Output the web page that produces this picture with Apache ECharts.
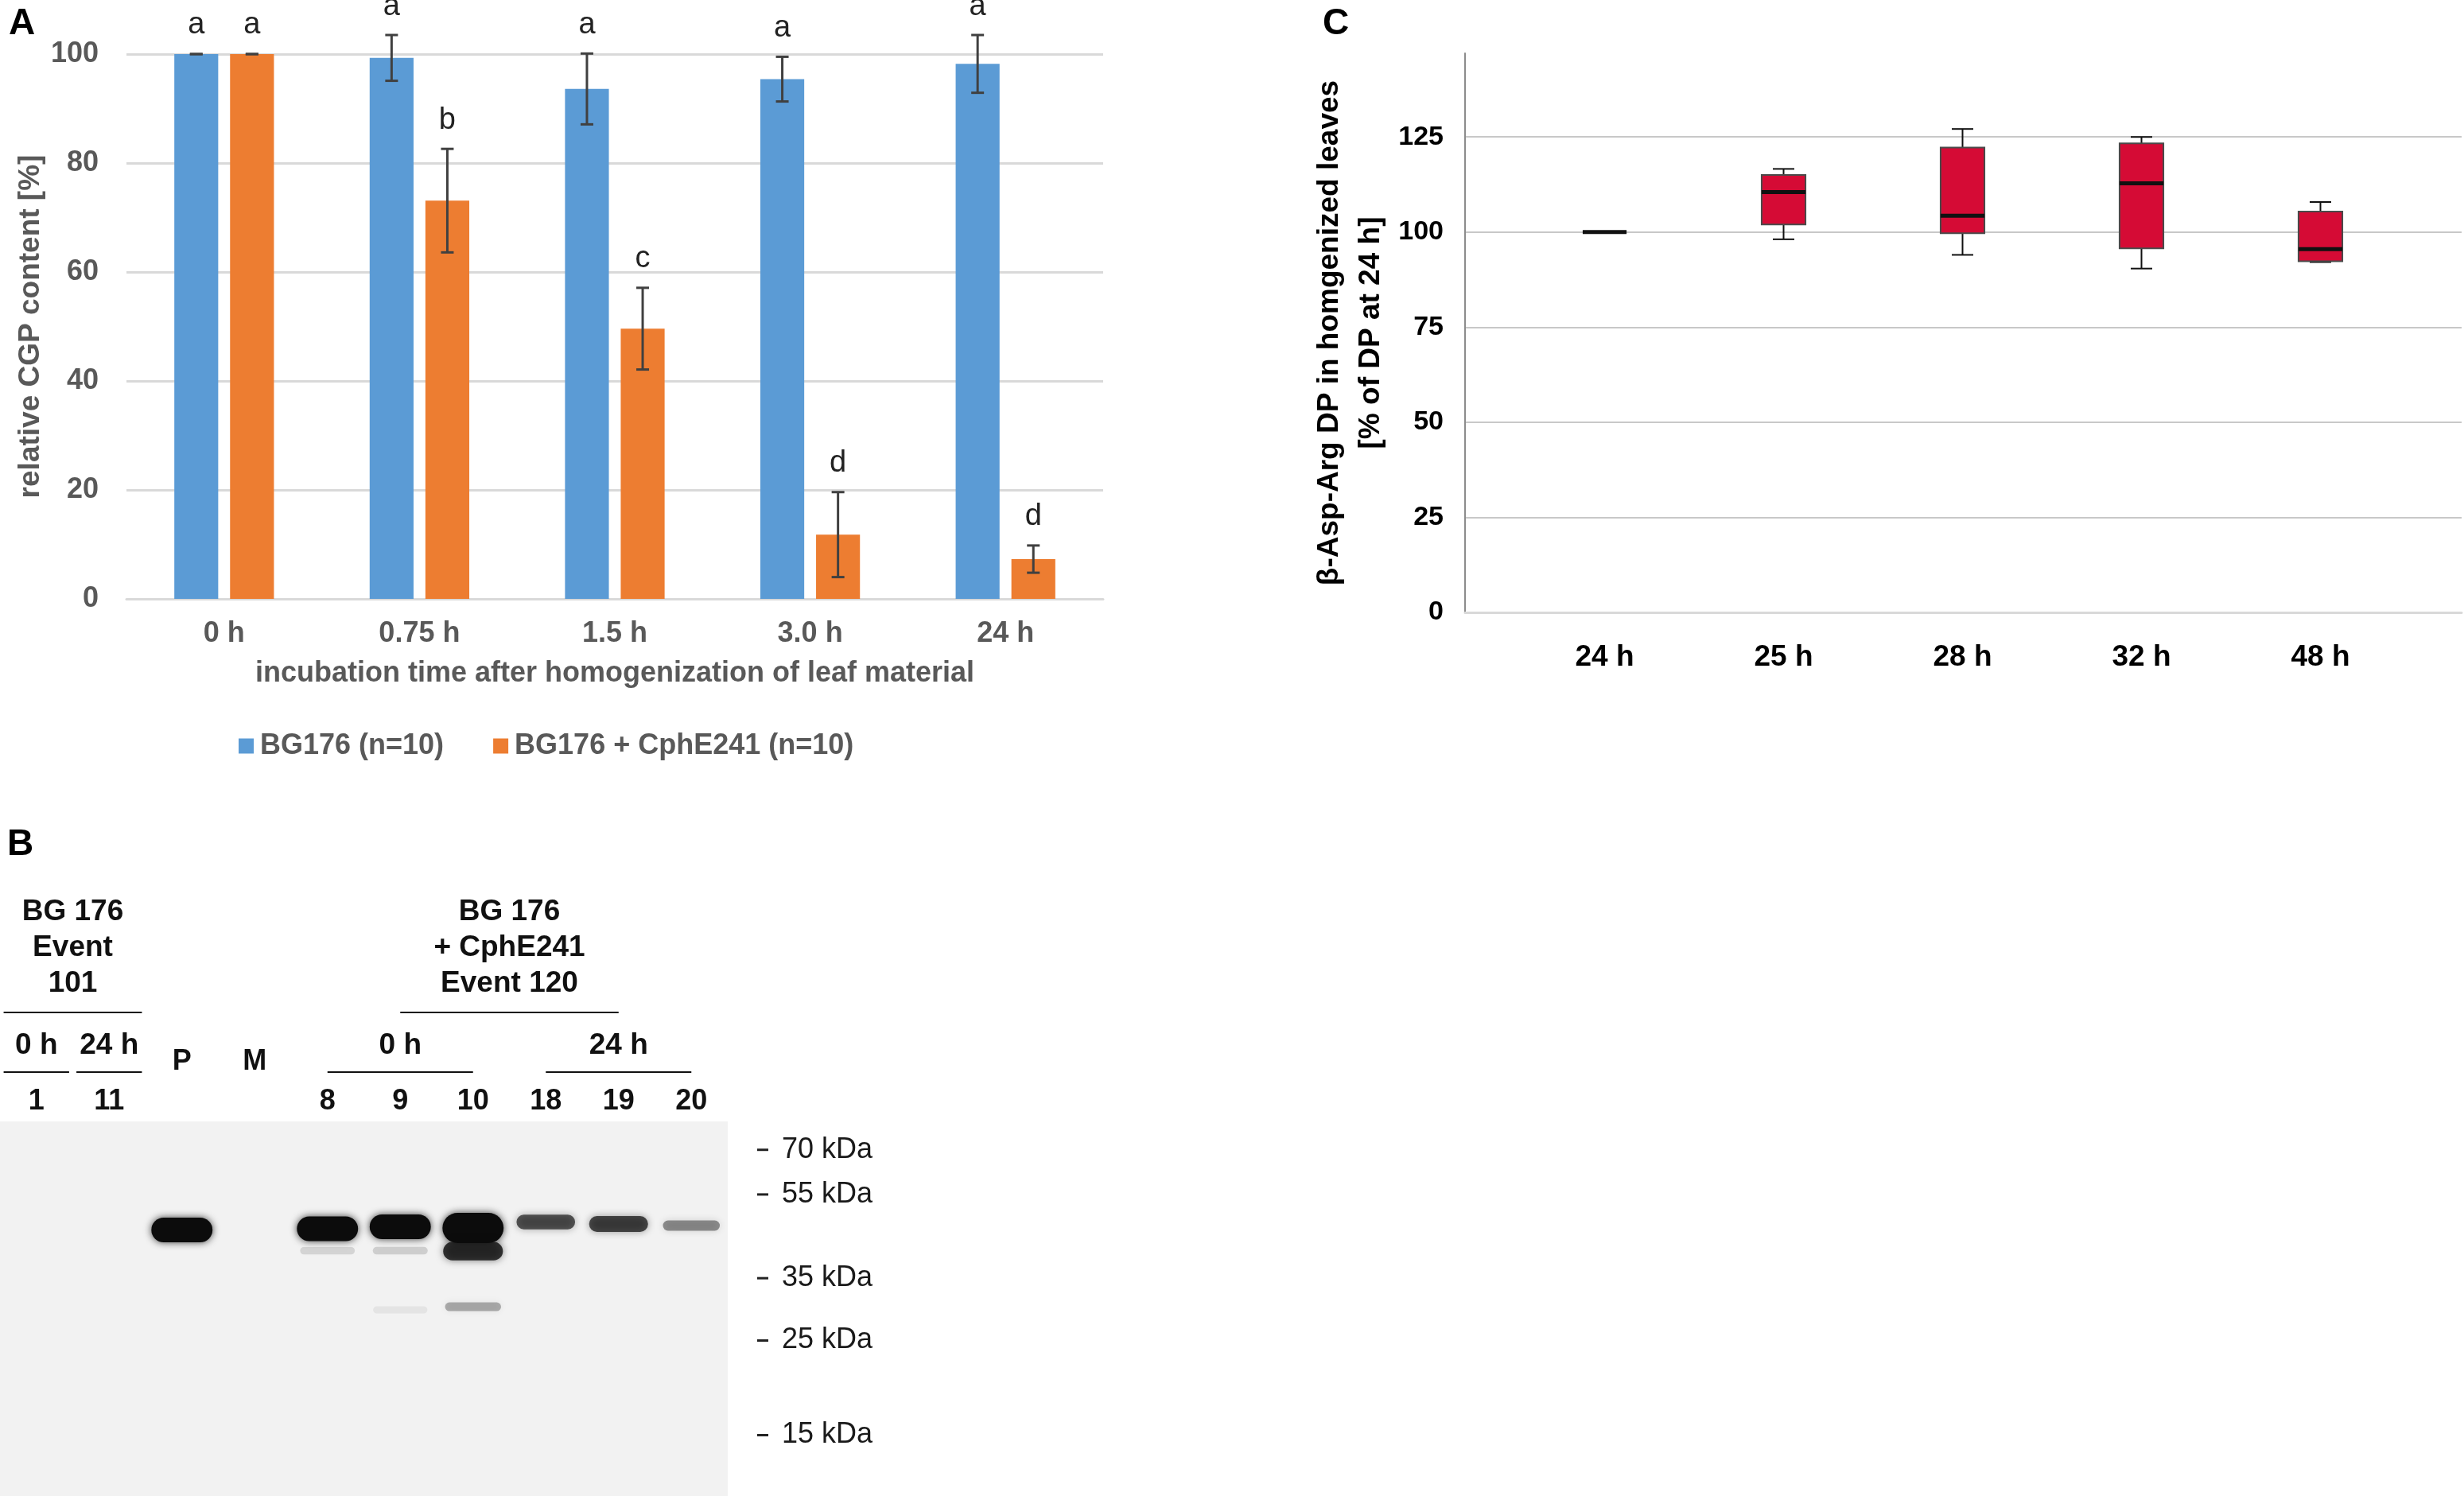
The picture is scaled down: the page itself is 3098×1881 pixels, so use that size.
<!DOCTYPE html>
<html>
<head>
<meta charset="utf-8">
<title>CGP degradation</title>
<script src="https://cdn.jsdelivr.net/npm/echarts@6/dist/echarts.min.js"></script>
<style>
  html, body { margin: 0; padding: 0; background: #fff; }
  #chart { width: 3098px; height: 1881px; }
</style>
</head>
<body>
<div id="chart"></div>
<script>
// Panel A - relative CGP content after homogenization
const timeCats = ["0 h", "0.75 h", "1.5 h", "3.0 h", "24 h"];
const bg176Mean = [100, 99.3, 93.6, 95.4, 98.2];
const bg176Err = [0, 4.2, 6.5, 4.1, 5.3];
const bg176Letters = ["a", "a", "a", "a", "a"];
const cphMean = [100, 73.1, 49.6, 11.8, 7.3];
const cphErr = [0, 9.5, 7.5, 7.8, 2.5];
const cphLetters = ["a", "b", "c", "d", "d"];

// Panel C - beta-Asp-Arg dipeptide, box plot values
const dpCats = ["24 h", "25 h", "28 h", "32 h", "48 h"];
const dpMin = [100, 98.1, 94.0, 90.4, 92.1];
const dpQ1 = [100, 102.0, 99.7, 95.7, 92.3];
const dpMedian = [100, 110.5, 104.3, 112.8, 95.5];
const dpQ3 = [100, 115.0, 122.2, 123.3, 105.4];
const dpMax = [100, 116.6, 127.1, 125.0, 107.9];

// Panel B - western blot lanes, bands (kDa) and relative signal
const laneNames = ["1", "11", "P", "M", "8", "9", "10", "18", "19", "20"];
const bandLane = ["P", "8", "9", "10", "10", "8", "9", "10", "9", "18", "19", "20"];
const bandKda = [45.4, 45.7, 46.2, 45.9, 40.5, 40.6, 40.6, 30.0, 29.5, 47.4, 46.9, 46.5];
const bandSignal = [1.0, 1.0, 1.0, 1.15, 0.8, 0.12, 0.15, 0.3, 0.06, 0.65, 0.7, 0.42];
const markerKda = [70, 55, 35, 25, 15];

const FONT = "'Liberation Sans', Arial, sans-serif";
const GREY = "#595959";

const chart = echarts.init(document.getElementById("chart"));

// bar layout shared by bars and error bars
const CAT_GAP = 0.49;
const BAR_GAP = 0.27;

function errorBars(side, letters) {
  return function (params, api) {
    const i = api.value(0);
    const m = api.value(1);
    const e = api.value(2);
    const band = api.size([1, 0])[0];
    const w = (band * (1 - CAT_GAP)) / (2 + BAR_GAP);
    const off = (side * w * (1 + BAR_GAP)) / 2;
    const top = api.coord([i, m + e]);
    const bot = api.coord([i, m - e]);
    const x = top[0] + off;
    const cap = 8;
    const ln = { stroke: "#404040", lineWidth: 3 };
    return {
      type: "group",
      children: [
        { type: "line", shape: { x1: x, y1: top[1], x2: x, y2: bot[1] }, style: ln },
        { type: "line", shape: { x1: x - cap, y1: top[1], x2: x + cap, y2: top[1] }, style: ln },
        { type: "line", shape: { x1: x - cap, y1: bot[1], x2: x + cap, y2: bot[1] }, style: ln },
        {
          type: "text",
          style: {
            text: letters[params.dataIndex],
            x: x,
            y: top[1] - 36,
            textAlign: "center",
            textVerticalAlign: "middle",
            font: "38px " + FONT,
            fill: "#222",
          },
        },
      ],
    };
  };
}

function boxRender(params, api) {
  const i = api.value(0);
  const lo = api.coord([i, api.value(1)]);
  const q1 = api.coord([i, api.value(2)]);
  const med = api.coord([i, api.value(3)]);
  const q3 = api.coord([i, api.value(4)]);
  const hi = api.coord([i, api.value(5)]);
  const band = api.size([1, 0])[0];
  const bw = band * 0.245;
  const cw = band * 0.12;
  const x = lo[0];
  const wl = { stroke: "#111", lineWidth: 2 };
  return {
    type: "group",
    children: [
      { type: "line", shape: { x1: x, y1: hi[1], x2: x, y2: q3[1] }, style: wl },
      { type: "line", shape: { x1: x - cw / 2, y1: hi[1], x2: x + cw / 2, y2: hi[1] }, style: wl },
      { type: "line", shape: { x1: x, y1: q1[1], x2: x, y2: lo[1] }, style: wl },
      { type: "line", shape: { x1: x - cw / 2, y1: lo[1], x2: x + cw / 2, y2: lo[1] }, style: wl },
      {
        type: "rect",
        shape: { x: x - bw / 2, y: q3[1], width: bw, height: q1[1] - q3[1] },
        style: { fill: "#D50B35", stroke: "#4a4a4a", lineWidth: 2 },
      },
      {
        type: "line",
        shape: { x1: x - bw / 2, y1: med[1], x2: x + bw / 2, y2: med[1] },
        style: { stroke: "#111", lineWidth: 5 },
      },
    ],
  };
}

function bandRender(params, api) {
  const p = api.coord([api.value(0), api.value(1)]);
  const s = api.value(2);
  const laneW = api.size([1, 20])[0];
  const a = Math.min(1, s);
  const w = laneW * (0.74 + 0.1 * a);
  const h = 9 + 22 * s * s;
  return {
    type: "rect",
    shape: { x: p[0] - w / 2, y: p[1] - h / 2, width: w, height: h, r: h / 2 },
    style: {
      fill: "rgba(12,12,12," + a + ")",
      shadowBlur: 10,
      shadowColor: "rgba(12,12,12," + a * 0.8 + ")",
    },
  };
}

function markerRender(params, api) {
  const y = api.coord([0, api.value(1)])[1];
  const xr = params.coordSys.x + params.coordSys.width;
  return {
    type: "group",
    children: [
      { type: "line", shape: { x1: xr + 37, y1: y, x2: xr + 51, y2: y }, style: { stroke: "#222", lineWidth: 3 } },
      {
        type: "text",
        style: {
          text: markerKda[params.dataIndex] + " kDa",
          x: xr + 68,
          y: y,
          textAlign: "left",
          textVerticalAlign: "middle",
          font: "36px " + FONT,
          fill: "#1a1a1a",
        },
      },
    ],
  };
}

const option = {
  backgroundColor: "#fff",
  animation: false,
  textStyle: { fontFamily: FONT },
  title: [
    { text: "A", left: 6, top: 2, textStyle: { fontSize: 46, fontWeight: "bold", color: "#000", fontFamily: FONT } },
    { text: "B", left: 4, top: 1034, textStyle: { fontSize: 46, fontWeight: "bold", color: "#000", fontFamily: FONT } },
    { text: "C", left: 1658, top: 2, textStyle: { fontSize: 46, fontWeight: "bold", color: "#000", fontFamily: FONT } },
  ],
  legend: {
    data: ["BG176 (n=10)", "BG176 + CphE241 (n=10)"],
    left: 300,
    top: 920,
    padding: 0,
    icon: "rect",
    itemWidth: 19,
    itemHeight: 19,
    itemGap: 62,
    textStyle: { fontSize: 36, fontWeight: "bold", color: GREY, fontFamily: FONT, padding: [0, 0, 0, 3] },
  },
  grid: [
    { left: 159, top: 68, width: 1228, height: 685 },
    { left: 1842, top: 67, width: 1253, height: 703 },
    { left: 1905, top: 67, width: 1125, height: 703 },
    { left: 0, top: 1410, width: 915, height: 471, show: true, backgroundColor: "#f2f2f2", borderWidth: 0 },
  ],
  xAxis: [
    {
      type: "category",
      gridIndex: 0,
      data: timeCats,
      axisLine: { lineStyle: { color: "#D9D9D9", width: 3 } },
      axisTick: { show: false },
      axisLabel: { color: GREY, fontSize: 36, fontWeight: "bold", margin: 26 },
      name: "incubation time after homogenization of leaf material",
      nameLocation: "middle",
      nameGap: 76,
      nameTextStyle: { color: GREY, fontSize: 36, fontWeight: "bold" },
    },
    {
      type: "value",
      gridIndex: 1,
      min: 0,
      max: 1,
      axisLine: { show: true, onZero: false, lineStyle: { color: "#D9D9D9", width: 3 } },
      axisTick: { show: false },
      axisLabel: { show: false },
      splitLine: { show: false },
    },
    {
      type: "category",
      gridIndex: 2,
      data: dpCats,
      axisLine: { show: false },
      axisTick: { show: false },
      axisLabel: { color: "#000", fontSize: 37, fontWeight: "bold", margin: 38 },
    },
    {
      type: "category",
      gridIndex: 3,
      data: laneNames,
      axisLine: { show: false },
      axisTick: { show: false },
      axisLabel: { show: false },
    },
  ],
  yAxis: [
    {
      type: "value",
      gridIndex: 0,
      min: 0,
      max: 100,
      interval: 20,
      axisLine: { show: false },
      axisTick: { show: false },
      axisLabel: { color: GREY, fontSize: 36, fontWeight: "bold", margin: 35 },
      splitLine: { lineStyle: { color: "#D9D9D9", width: 3 } },
      name: "relative CGP content [%]",
      nameLocation: "middle",
      nameGap: 102,
      nameTextStyle: { color: GREY, fontSize: 37, fontWeight: "bold" },
    },
    {
      type: "value",
      gridIndex: 1,
      min: 0,
      max: 147,
      interval: 25,
      axisLine: { show: true, lineStyle: { color: "#8c8c8c", width: 2 } },
      axisTick: { show: false },
      axisLabel: { color: "#000", fontSize: 34, fontWeight: "bold", margin: 27, showMaxLabel: false },
      splitLine: { showMaxLine: false, showMinLine: false, lineStyle: { color: "#C8C8C8", width: 2 } },
      name: "β-Asp-Arg DP in homgenized leaves\n[% of DP at 24 h]",
      nameLocation: "middle",
      nameGap: 92,
      nameTextStyle: { color: "#000", fontSize: 37, fontWeight: "bold", lineHeight: 52 },
    },
    {
      type: "value",
      gridIndex: 2,
      min: 0,
      max: 147,
      show: false,
    },
    {
      type: "log",
      gridIndex: 3,
      logBase: 10,
      min: 10.8,
      max: 81.6,
      show: false,
    },
  ],
  series: [
    {
      name: "BG176 (n=10)",
      type: "bar",
      xAxisIndex: 0,
      yAxisIndex: 0,
      data: bg176Mean,
      itemStyle: { color: "#5B9BD5" },
      barGap: BAR_GAP * 100 + "%",
      barCategoryGap: CAT_GAP * 100 + "%",
    },
    {
      name: "BG176 + CphE241 (n=10)",
      type: "bar",
      xAxisIndex: 0,
      yAxisIndex: 0,
      data: cphMean,
      itemStyle: { color: "#ED7D31" },
    },
    {
      type: "custom",
      xAxisIndex: 0,
      yAxisIndex: 0,
      clip: false,
      z: 5,
      data: bg176Mean.map((m, i) => [i, m, bg176Err[i]]),
      renderItem: errorBars(-1, bg176Letters),
    },
    {
      type: "custom",
      xAxisIndex: 0,
      yAxisIndex: 0,
      clip: false,
      z: 5,
      data: cphMean.map((m, i) => [i, m, cphErr[i]]),
      renderItem: errorBars(1, cphLetters),
    },
    {
      type: "custom",
      xAxisIndex: 2,
      yAxisIndex: 2,
      clip: false,
      data: dpCats.map((c, i) => [i, dpMin[i], dpQ1[i], dpMedian[i], dpQ3[i], dpMax[i]]),
      renderItem: boxRender,
    },
    {
      type: "custom",
      xAxisIndex: 3,
      yAxisIndex: 3,
      clip: false,
      data: bandLane.map((l, i) => [laneNames.indexOf(l), bandKda[i], bandSignal[i]]),
      renderItem: bandRender,
    },
    {
      type: "custom",
      xAxisIndex: 3,
      yAxisIndex: 3,
      clip: false,
      data: markerKda.map((k) => [0, k]),
      renderItem: markerRender,
    },
  ],
};

chart.setOption(option);

// Panel B labels, placed from the lane axis
const gelTop = 1410;
const laneX = (i) => chart.convertToPixel({ xAxisIndex: 3 }, i);
const laneW = laneX(1) - laneX(0);
const boldFont = (s) => "bold " + s + "px " + FONT;

function txt(text, x, y, size) {
  return {
    type: "text",
    x: x,
    y: y,
    style: {
      text: text,
      font: boldFont(size || 37),
      fill: "#111",
      textAlign: "center",
      textVerticalAlign: "middle",
      align: "center",
      verticalAlign: "middle",
    },
  };
}
function hline(x1, x2, y) {
  return { type: "line", shape: { x1: x1, y1: y, x2: x2, y2: y }, style: { stroke: "#111", lineWidth: 2 } };
}

const headers = [
  { lines: ["BG 176", "Event", "101"], from: 0, to: 1, pad: 0.45 },
  { lines: ["BG 176", "+ CphE241", "Event 120"], from: 5, to: 8, pad: 0 },
];
const timeGroups = [
  { text: "0 h", from: 0, to: 0, pad: 0.45 },
  { text: "24 h", from: 1, to: 1, pad: 0.45 },
  { text: "0 h", from: 4, to: 6, pad: 0 },
  { text: "24 h", from: 7, to: 9, pad: 0 },
];

const gfx = [];
headers.forEach((h) => {
  const x1 = laneX(h.from) - h.pad * laneW;
  const x2 = laneX(h.to) + h.pad * laneW;
  const cx = (x1 + x2) / 2;
  h.lines.forEach((t, k) => gfx.push(txt(t, cx, gelTop - 263 + k * 45)));
  gfx.push(hline(x1, x2, gelTop - 137));
});
timeGroups.forEach((g) => {
  const x1 = laneX(g.from) - g.pad * laneW;
  const x2 = laneX(g.to) + g.pad * laneW;
  gfx.push(txt(g.text, (x1 + x2) / 2, gelTop - 95));
  gfx.push(hline(x1, x2, gelTop - 62));
});
laneNames.forEach((n, i) => {
  const isSample = /^\d+$/.test(n);
  gfx.push(txt(n, laneX(i), isSample ? gelTop - 25 : gelTop - 75, 36));
});

chart.setOption({ graphic: gfx });
</script>
</body>
</html>
